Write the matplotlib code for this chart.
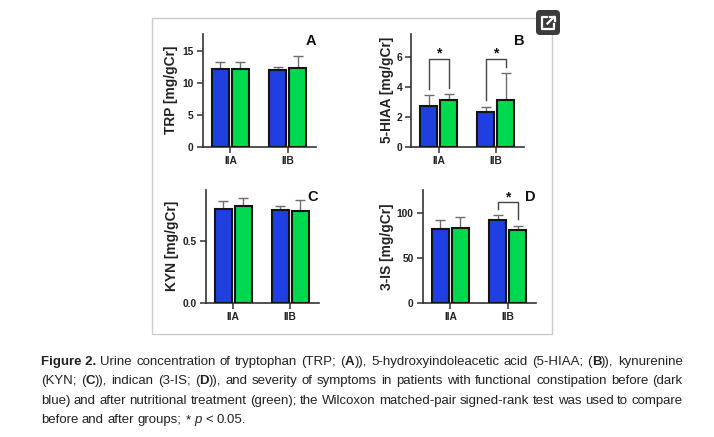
#!/usr/bin/env python3

import numpy as np
import matplotlib
matplotlib.use("Agg")
import matplotlib.pyplot as plt
from matplotlib.patches import FancyBboxPatch, Rectangle

plt.rcParams['font.family'] = ['Liberation Sans', 'DejaVu Sans']

W, H = 714, 437

groups = ['IIA', 'IIB']

trp_mean = [12.2, 12.2, 12.0, 12.3]
trp_top = [13.15, 13.25, 12.5, 14.2]

hiaa_mean = [2.7, 3.1, 2.3, 3.1]
hiaa_top = [3.44, 3.55, 2.67, 4.95]
hiaa_brackets = [(0, 3.87, 3.97, 5.87), (1, 3.1, 5.35, 5.87)]

kyn_mean = [0.76, 0.785, 0.755, 0.747]
kyn_top = [0.828, 0.847, 0.788, 0.836]

is_mean = [82.2, 84.0, 92.0, 81.5]
is_top = [92.2, 96.0, 97.8, 85.5]
is_brackets = [(1, 104.8, 93.3, 112.2)]

BLUE = '#1f3fe0'
GREEN = '#00d84f'
OFFSET = 0.175
BAR_W = 0.297

caption = [
    [("Figure 2.", 'b'), ("Urine", ''), ("concentration", ''), ("of", ''), ("tryptophan", ''),
     ("(TRP;", ''), ([("(", ''), ("A", 'b'), (")),", '')], ''), ("5-hydroxyindoleacetic", ''),
     ("acid", ''), ("(5-HIAA;", ''), ([("(", ''), ("B", 'b'), (")),", '')], ''), ("kynurenine", '')],
    [("(KYN;", ''), ([("(", ''), ("C", 'b'), (")),", '')], ''), ("indican", ''), ("(3-IS;", ''),
     ([("(", ''), ("D", 'b'), (")),", '')], ''), ("and", ''), ("severity", ''), ("of", ''),
     ("symptoms", ''), ("in", ''), ("patients", ''), ("with", ''), ("functional", ''),
     ("constipation", ''), ("before", ''), ("(dark", '')],
    [("blue)", ''), ("and", ''), ("after", ''), ("nutritional", ''), ("treatment", ''),
     ("(green);", ''), ("the", ''), ("Wilcoxon", ''), ("matched-pair", ''), ("signed-rank", ''),
     ("test", ''), ("was", ''), ("used", ''), ("to", ''), ("compare", '')],
    [("before", ''), ("and", ''), ("after", ''), ("groups;", ''), ("*", ''), ("p", 'i'),
     ("<", ''), ("0.05.", '')],
]
caption_y = [365.0, 384.4, 403.9, 423.3]


def px_axes(fig, left, right, top, bottom):
    return fig.add_axes([left / W, 1 - bottom / H, (right - left) / W, (bottom - top) / H])


def panel(fig, box, means, tops, ylim, ticks, ticklabels, ylabel, label_xy, letter, letter_xy,
          brackets=()):
    ax = px_axes(fig, *box)
    ax.set_facecolor('none')
    x = np.array([-OFFSET, OFFSET, 1 - OFFSET, 1 + OFFSET])
    ax.errorbar(x, means, yerr=[np.zeros(4), np.array(tops) - np.array(means)], fmt='none',
                ecolor='#6e6e6e', elinewidth=1.0, capsize=3.8, capthick=1.0, zorder=2)
    ax.bar(x, means, BAR_W, color=[BLUE, GREEN, BLUE, GREEN], edgecolor='#141414',
           linewidth=1.5, zorder=3)
    ax.set_xlim(-0.483, 1.498)
    ax.set_ylim(*ylim)
    ax.set_xticks([0, 1], groups)
    ax.set_yticks(ticks, ticklabels)
    ax.tick_params(length=4, width=1.1, color='#333333', labelsize=7.4, pad=2.5, labelcolor='#222222')
    for lab in ax.get_xticklabels() + ax.get_yticklabels():
        lab.set_fontweight('bold')
    ax.spines[['top', 'right']].set_visible(False)
    ax.spines[['left', 'bottom']].set_linewidth(1.2)
    ax.spines[['left', 'bottom']].set_color('#333333')
    fig.text(label_xy[0] / W, 1 - label_xy[1] / H, ylabel, rotation=90, fontsize=9.9,
             fontweight='bold', color='#222222', ha='center', va='center')
    fig.text(letter_xy[0] / W, 1 - letter_xy[1] / H, letter, fontsize=10.5, fontweight='bold',
             ha='center', va='center', color='#111111')
    for g, y0, y1, ytop in brackets:
        ax.plot([g - OFFSET, g - OFFSET, g + OFFSET, g + OFFSET], [y0, ytop, ytop, y1],
                color='#444444', lw=1.0, zorder=4, clip_on=False)
        ax.text(g, ytop - (ylim[1] - ylim[0]) * 0.015, '*', fontsize=10, fontweight='bold',
                ha='center', va='bottom', color='#111111')
    return ax


def run_style(kind):
    return {'fontweight': 'bold' if kind == 'b' else 'normal',
            'fontstyle': 'italic' if kind == 'i' else 'normal'}


def text_width(bg, renderer, s, kind, size):
    # the x's stop the measured width collapsing to the ink of the run
    t = bg.text(0, 0, 'x' + s + 'x', fontsize=size, **run_style(kind))
    a = t.get_window_extent(renderer).width
    t.set_text('xx')
    b = t.get_window_extent(renderer).width
    t.remove()
    return a - b


def draw_caption(fig, bg, size=9.55, x0=41, x1=682.7):
    renderer = fig.canvas.get_renderer()
    space = text_width(bg, renderer, ' ', '', size)
    for n, (line, y) in enumerate(zip(caption, caption_y)):
        words = []
        for s, kind in line:
            runs = s if isinstance(s, list) else [(s, kind)]
            runs = [(r, k, text_width(bg, renderer, r, k, size)) for r, k in runs]
            words.append(runs)
        total = sum(w[2] for runs in words for w in runs)
        gap = space if n == len(caption) - 1 else (x1 - x0 - total) / (len(words) - 1)
        x = x0
        for runs in words:
            for r, k, w in runs:
                bg.text(x, y, r, fontsize=size, va='baseline', ha='left',
                        color='#222222', **run_style(k))
                x += w
            x += gap


def main():
    fig = plt.figure(figsize=(W / 100, H / 100), dpi=100, facecolor='white')

    bg = fig.add_axes([0, 0, 1, 1])
    bg.set_xlim(0, W)
    bg.set_ylim(H, 0)
    bg.axis('off')

    bg.add_patch(Rectangle((152, 18.3), 399.7, 316, fill=False, edgecolor='#cccccc', lw=1.0))

    # open-in-new-window button
    bg.add_patch(FancyBboxPatch((538.5, 12.5), 19, 20, boxstyle='round,pad=2.5,rounding_size=4',
                                facecolor='#3b3b3b', edgecolor='none', zorder=5))
    bg.plot([547, 542, 542, 554, 554], [17, 17, 29, 29, 24], color='white', lw=1.6, zorder=6)
    bg.plot([547.5, 554], [23.5, 17], color='white', lw=1.6, zorder=6)
    bg.plot([549.5, 554.5, 554.5], [16.5, 16.5, 21], color='white', lw=1.6, zorder=6)

    panel(fig, (202.7, 316, 34, 146.7), trp_mean, trp_top, (0, 17.6), [0, 5, 10, 15],
          ['0', '5', '10', '15'], 'TRP [mg/gCr]', (171, 89.5), 'A', (310.7, 40.7))
    panel(fig, (411.3, 524.3, 34, 146.7), hiaa_mean, hiaa_top, (0, 7.56), [0, 2, 4, 6],
          ['0', '2', '4', '6'], '5-HIAA [mg/gCr]', (387, 90), 'B', (519, 40.7), hiaa_brackets)
    panel(fig, (205.7, 318.7, 190.3, 303.3), kyn_mean, kyn_top, (0, 0.911), [0, 0.5],
          ['0.0', '0.5'], 'KYN [mg/gCr]', (172, 246), 'C', (313, 196.7))
    panel(fig, (422.7, 536.3, 190.3, 303.3), is_mean, is_top, (0, 125.5), [0, 50, 100],
          ['0', '50', '100'], '3-IS [mg/gCr]', (387, 246.5), 'D', (530.7, 196.7), is_brackets)

    draw_caption(fig, bg)

    fig.savefig('out.png', dpi=100)


if __name__ == '__main__':
    main()
